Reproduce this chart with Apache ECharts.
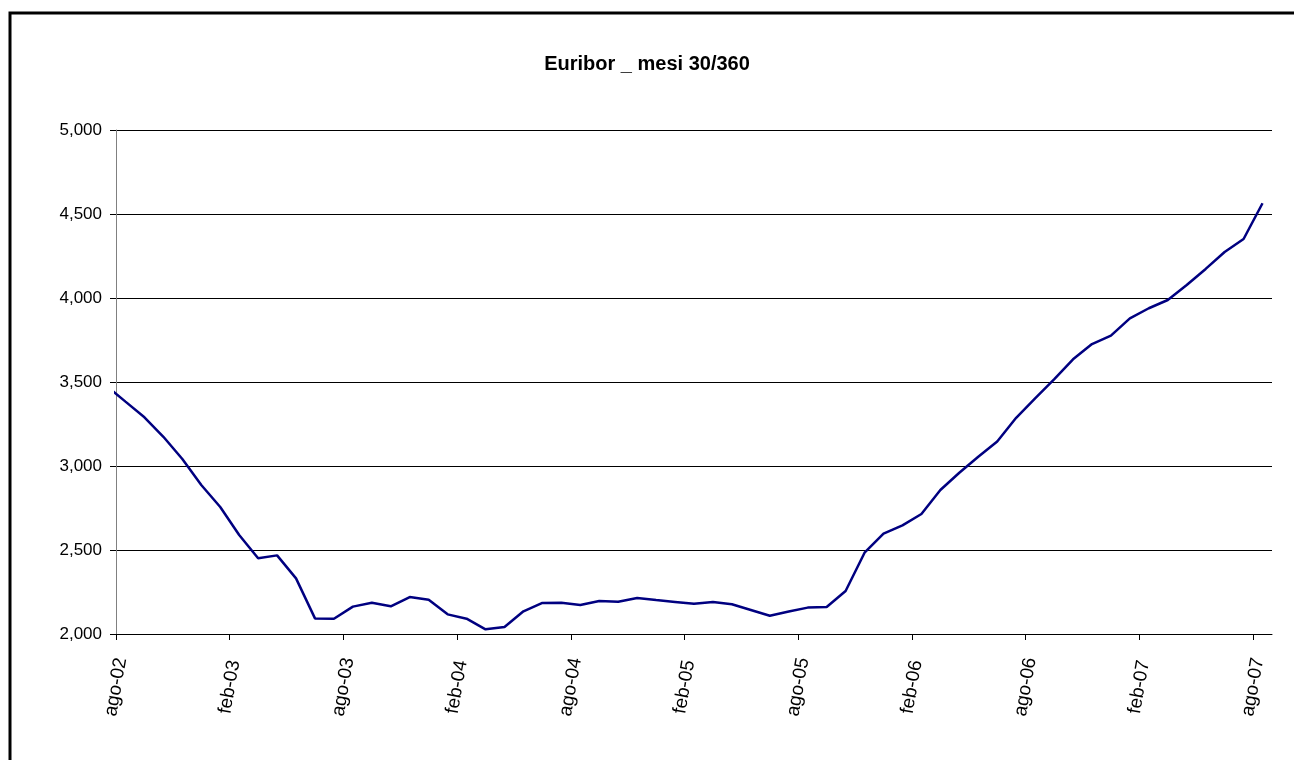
<!DOCTYPE html>
<html>
<head>
<meta charset="utf-8">
<script src="https://cdn.jsdelivr.net/npm/echarts@6/dist/echarts.min.js"></script>
<style>
  html, body { margin: 0; padding: 0; background: #fff; }
  #euribor_chart { width: 1294px; height: 760px; }
</style>
</head>
<body>
<div id="euribor_chart"></div>
<script>
  // mesi (dati a metà mese), lug-02 cade prima dell'inizio dell'asse
  let months = [
    'lug-02', 'ago-02', 'set-02', 'ott-02', 'nov-02', 'dic-02',
    'gen-03', 'feb-03', 'mar-03', 'apr-03', 'mag-03', 'giu-03', 'lug-03', 'ago-03', 'set-03', 'ott-03', 'nov-03', 'dic-03',
    'gen-04', 'feb-04', 'mar-04', 'apr-04', 'mag-04', 'giu-04', 'lug-04', 'ago-04', 'set-04', 'ott-04', 'nov-04', 'dic-04',
    'gen-05', 'feb-05', 'mar-05', 'apr-05', 'mag-05', 'giu-05', 'lug-05', 'ago-05', 'set-05', 'ott-05', 'nov-05', 'dic-05',
    'gen-06', 'feb-06', 'mar-06', 'apr-06', 'mag-06', 'giu-06', 'lug-06', 'ago-06', 'set-06', 'ott-06', 'nov-06', 'dic-06',
    'gen-07', 'feb-07', 'mar-07', 'apr-07', 'mag-07', 'giu-07', 'lug-07', 'ago-07'
  ]
  let rates = [
    3.477, 3.383, 3.290, 3.174, 3.042, 2.887,
    2.756, 2.589, 2.451, 2.468, 2.331, 2.093, 2.091, 2.163, 2.186, 2.165, 2.220, 2.204,
    2.117, 2.091, 2.028, 2.042, 2.135, 2.185, 2.186, 2.173, 2.196, 2.192, 2.214, 2.202,
    2.191, 2.180, 2.190, 2.177, 2.143, 2.109, 2.134, 2.157, 2.161, 2.256, 2.484, 2.597,
    2.647, 2.714, 2.857, 2.960, 3.055, 3.146, 3.287, 3.403, 3.516, 3.635, 3.726, 3.776,
    3.879, 3.939, 3.988, 4.077, 4.173, 4.274, 4.351, 4.564
  ]
  let tickLabels = ['ago-02', 'feb-03', 'ago-03', 'feb-04', 'ago-04', 'feb-05',
    'ago-05', 'feb-06', 'ago-06', 'feb-07', 'ago-07']

  // x = mesi da inizio ago-02, punto a metà mese
  let seriesData = rates.map(function (v, i) {
    return [i - 0.5, v]
  })

  let myChart = echarts.init(document.getElementById('euribor_chart'))
  let font = 'Liberation Sans, Arial, sans-serif'

  let option = {
    backgroundColor: '#fff',
    animation: false,
    title: {
      text: 'Euribor _ mesi 30/360',
      left: 'center',
      top: 49,
      textStyle: {
        fontFamily: font,
        fontSize: 20,
        fontWeight: 'bold',
        color: '#000'
      }
    },
    graphic: [{
      type: 'rect',
      shape: { x: 10, y: 13, width: 2000, height: 2000 },
      style: { fill: 'none', stroke: '#000', lineWidth: 3 },
      silent: true
    }],
    grid: {
      left: 116,
      right: 22,
      top: 130,
      bottom: 126,
      containLabel: false
    },
    xAxis: {
      type: 'value',
      min: 0,
      max: 61,
      interval: 6,
      axisLine: { show: true, onZero: false, lineStyle: { color: '#000', width: 1 } },
      axisTick: { show: true, length: 6, lineStyle: { color: '#000' } },
      splitLine: { show: false },
      axisLabel: {
        rotate: 80,
        align: 'center',
        verticalAlign: 'middle',
        margin: 53,
        fontFamily: font,
        fontSize: 19,
        color: '#000',
        showMaxLabel: false,
        formatter: function (v) {
          if (v % 6 !== 0) return ''
          return tickLabels[v / 6] || ''
        }
      }
    },
    yAxis: {
      type: 'value',
      min: 2,
      max: 5,
      interval: 0.5,
      axisLine: { show: true, lineStyle: { color: '#808080', width: 1 } },
      axisTick: { show: true, length: 6, lineStyle: { color: '#000' } },
      splitLine: { show: true, lineStyle: { color: '#000', width: 1 } },
      axisLabel: {
        margin: 14,
        fontFamily: font,
        fontSize: 17,
        color: '#000',
        formatter: function (v) {
          return v.toFixed(3).replace('.', ',')
        }
      }
    },
    series: [{
      name: 'Euribor',
      type: 'line',
      data: seriesData,
      showSymbol: false,
      clip: true,
      lineStyle: { color: '#000080', width: 2.5 }
    }]
  }
  myChart.setOption(option)
</script>
</body>
</html>
